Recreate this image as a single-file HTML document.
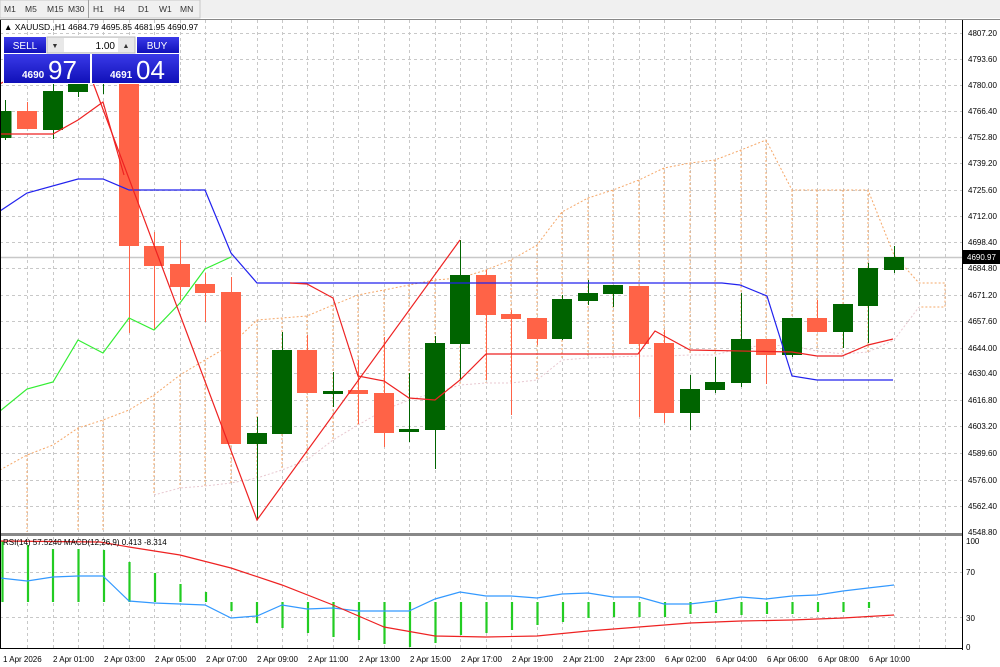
<!DOCTYPE html>
<html><head><meta charset="utf-8"><style>
body{margin:0;width:1000px;height:667px;overflow:hidden;background:#fff;font-family:"Liberation Sans",sans-serif}
svg{position:absolute;left:0;top:0}
</style></head><body>
<svg width="1000" height="667" viewBox="0 0 1000 667" font-family="Liberation Sans, sans-serif">
<rect x="0" y="0" width="1000" height="667" fill="#fff"/>
<!-- toolbar -->
<rect x="0" y="0" width="1000" height="18" fill="#f0f0f0"/>
<rect x="0" y="0" width="200" height="18" fill="#f0f0f0" stroke="#c8c8c8"/>
<line x1="88.5" y1="0" x2="88.5" y2="18" stroke="#a0a0a0"/>
<g font-size="8.5" fill="#333">
<text x="4" y="12">M1</text><text x="25" y="12">M5</text><text x="47" y="12">M15</text><text x="68" y="12">M30</text>
<text x="93" y="12">H1</text><text x="114" y="12">H4</text><text x="138" y="12">D1</text><text x="159" y="12">W1</text><text x="180" y="12">MN</text>
</g>
<line x1="0" y1="19.5" x2="1000" y2="19.5" stroke="#888"/>
<!-- grid main -->
<g stroke="#c8c8c8" stroke-dasharray="3,3" stroke-width="1">
<line x1="0" y1="33.5" x2="962" y2="33.5"/><line x1="0" y1="59.5" x2="962" y2="59.5"/><line x1="0" y1="85.5" x2="962" y2="85.5"/><line x1="0" y1="111.5" x2="962" y2="111.5"/><line x1="0" y1="137.5" x2="962" y2="137.5"/><line x1="0" y1="163.5" x2="962" y2="163.5"/><line x1="0" y1="190.5" x2="962" y2="190.5"/><line x1="0" y1="216.5" x2="962" y2="216.5"/><line x1="0" y1="242.5" x2="962" y2="242.5"/><line x1="0" y1="268.5" x2="962" y2="268.5"/><line x1="0" y1="295.5" x2="962" y2="295.5"/><line x1="0" y1="321.5" x2="962" y2="321.5"/><line x1="0" y1="348.5" x2="962" y2="348.5"/><line x1="0" y1="373.5" x2="962" y2="373.5"/><line x1="0" y1="400.5" x2="962" y2="400.5"/><line x1="0" y1="426.5" x2="962" y2="426.5"/><line x1="0" y1="453.5" x2="962" y2="453.5"/><line x1="0" y1="480.5" x2="962" y2="480.5"/><line x1="0" y1="506.5" x2="962" y2="506.5"/>
</g>
<g stroke="#c8c8c8" stroke-dasharray="3,3" id="vg">
<line x1="27.5" y1="20" x2="27.5" y2="532"/><line x1="53.5" y1="20" x2="53.5" y2="532"/><line x1="78.5" y1="20" x2="78.5" y2="532"/><line x1="103.5" y1="20" x2="103.5" y2="532"/><line x1="129.5" y1="20" x2="129.5" y2="532"/><line x1="154.5" y1="20" x2="154.5" y2="532"/><line x1="180.5" y1="20" x2="180.5" y2="532"/><line x1="205.5" y1="20" x2="205.5" y2="532"/><line x1="231.5" y1="20" x2="231.5" y2="532"/><line x1="257.5" y1="20" x2="257.5" y2="532"/><line x1="282.5" y1="20" x2="282.5" y2="532"/><line x1="307.5" y1="20" x2="307.5" y2="532"/><line x1="333.5" y1="20" x2="333.5" y2="532"/><line x1="358.5" y1="20" x2="358.5" y2="532"/><line x1="384.5" y1="20" x2="384.5" y2="532"/><line x1="409.5" y1="20" x2="409.5" y2="532"/><line x1="435.5" y1="20" x2="435.5" y2="532"/><line x1="460.5" y1="20" x2="460.5" y2="532"/><line x1="486.5" y1="20" x2="486.5" y2="532"/><line x1="511.5" y1="20" x2="511.5" y2="532"/><line x1="537.5" y1="20" x2="537.5" y2="532"/><line x1="562.5" y1="20" x2="562.5" y2="532"/><line x1="588.5" y1="20" x2="588.5" y2="532"/><line x1="613.5" y1="20" x2="613.5" y2="532"/><line x1="639.5" y1="20" x2="639.5" y2="532"/><line x1="664.5" y1="20" x2="664.5" y2="532"/><line x1="690.5" y1="20" x2="690.5" y2="532"/><line x1="715.5" y1="20" x2="715.5" y2="532"/><line x1="741.5" y1="20" x2="741.5" y2="532"/><line x1="766.5" y1="20" x2="766.5" y2="532"/><line x1="792.5" y1="20" x2="792.5" y2="532"/><line x1="817.5" y1="20" x2="817.5" y2="532"/><line x1="843.5" y1="20" x2="843.5" y2="532"/><line x1="868.5" y1="20" x2="868.5" y2="532"/><line x1="894.5" y1="20" x2="894.5" y2="532"/><line x1="919.5" y1="20" x2="919.5" y2="532"/><line x1="945.5" y1="20" x2="945.5" y2="532"/>
</g>
<!-- cloud -->
<g stroke="#f5a86a" stroke-dasharray="2,2" fill="none" stroke-width="1">
<polyline points="0,470 27,455 53,445 78,428 103,420 129,410 154,395 180,375 205,360 231,345 257,320 282,318 307,316 333,305 358,295 384,290 409,285 435,280 460,278 486,270 511,260 537,245 562,212 588,198 613,190 639,180 664,168 690,163 715,160 741,150 766,140 792,190 817,190 843,190 868,190 894,255 919,283 945,283 945,307 919,307"/>
<line x1="27" y1="455" x2="27" y2="532"/><line x1="78" y1="428" x2="78" y2="532"/><line x1="103" y1="420" x2="103" y2="532"/><line x1="154" y1="395" x2="154" y2="495"/><line x1="180" y1="375" x2="180" y2="488"/><line x1="205" y1="360" x2="205" y2="486"/><line x1="231" y1="345" x2="231" y2="483"/><line x1="257" y1="320" x2="257" y2="478"/><line x1="282" y1="318" x2="282" y2="470"/><line x1="307" y1="316" x2="307" y2="460"/><line x1="333" y1="305" x2="333" y2="440"/><line x1="358" y1="295" x2="358" y2="425"/><line x1="384" y1="290" x2="384" y2="410"/><line x1="409" y1="285" x2="409" y2="400"/><line x1="435" y1="280" x2="435" y2="393"/><line x1="460" y1="278" x2="460" y2="385"/><line x1="486" y1="270" x2="486" y2="383"/><line x1="511" y1="260" x2="511" y2="383"/><line x1="537" y1="245" x2="537" y2="380"/><line x1="562" y1="212" x2="562" y2="360"/><line x1="588" y1="198" x2="588" y2="358"/><line x1="613" y1="190" x2="613" y2="357"/><line x1="639" y1="180" x2="639" y2="356"/><line x1="664" y1="168" x2="664" y2="356"/><line x1="690" y1="163" x2="690" y2="355"/><line x1="715" y1="160" x2="715" y2="355"/><line x1="741" y1="150" x2="741" y2="348"/><line x1="766" y1="140" x2="766" y2="345"/><line x1="792" y1="190" x2="792" y2="346"/><line x1="817" y1="190" x2="817" y2="351"/><line x1="843" y1="190" x2="843" y2="354"/><line x1="868" y1="190" x2="868" y2="352"/>
</g>
<polyline fill="none" stroke="#e8c8d0" stroke-dasharray="2,2" points="154,495 180,488 205,486 231,483 257,478 282,470 307,460 333,440 358,425 384,410 409,400 435,393 460,385 486,383 511,383 537,380 562,360 588,358 613,357 639,356 664,356 690,355 715,355 741,348 766,345 792,346 817,351 843,354 868,352 894,340 919,307"/>
<!-- current price line -->
<line x1="0" y1="257.5" x2="962" y2="257.5" stroke="#c8c8c8" stroke-width="1.5"/>
<!-- candles -->
<g stroke-width="1">
<g stroke="#ff6347" fill="#ff6347">
<line x1="27.5" y1="102" x2="27.5" y2="128"/><rect x="17.5" y="111.5" width="19" height="17"/>
<line x1="129.5" y1="83" x2="129.5" y2="333"/><rect x="119.5" y="83.5" width="19" height="162"/>
<line x1="154.5" y1="232" x2="154.5" y2="330"/><rect x="144.5" y="246.5" width="19" height="19"/>
<line x1="180.5" y1="240" x2="180.5" y2="300"/><rect x="170.5" y="264.5" width="19" height="22"/>
<line x1="205.5" y1="273" x2="205.5" y2="322"/><rect x="195.5" y="284.5" width="19" height="8"/>
<line x1="231.5" y1="277" x2="231.5" y2="443"/><rect x="221.5" y="292.5" width="19" height="151"/>
<line x1="307.5" y1="335" x2="307.5" y2="392"/><rect x="297.5" y="350.5" width="19" height="42"/>
<line x1="358.5" y1="360" x2="358.5" y2="424"/><rect x="348.5" y="390.5" width="19" height="3"/>
<line x1="384.5" y1="337" x2="384.5" y2="447"/><rect x="374.5" y="393.5" width="19" height="39"/>
<line x1="486.5" y1="270" x2="486.5" y2="380"/><rect x="476.5" y="275.5" width="19" height="39"/>
<line x1="511.5" y1="310" x2="511.5" y2="415"/><rect x="501.5" y="314.5" width="19" height="4"/>
<line x1="537.5" y1="318" x2="537.5" y2="345"/><rect x="527.5" y="318.5" width="19" height="20"/>
<line x1="639.5" y1="286" x2="639.5" y2="417"/><rect x="629.5" y="286.5" width="19" height="57"/>
<line x1="664.5" y1="330" x2="664.5" y2="423"/><rect x="654.5" y="343.5" width="19" height="69"/>
<line x1="766.5" y1="339" x2="766.5" y2="384"/><rect x="756.5" y="339.5" width="19" height="15"/>
<line x1="817.5" y1="300" x2="817.5" y2="331"/><rect x="807.5" y="318.5" width="19" height="13"/>
</g>
<g stroke="#006400" fill="#006400">
<line x1="5.5" y1="100" x2="5.5" y2="140"/><rect x="0" y="111.5" width="11" height="26"/>
<line x1="53.5" y1="83" x2="53.5" y2="139"/><rect x="43.5" y="91.5" width="19" height="38"/>
<line x1="78.5" y1="83" x2="78.5" y2="97"/><rect x="68.5" y="83.5" width="19" height="8"/>
<line x1="103.5" y1="83" x2="103.5" y2="94"/>
<line x1="257.5" y1="417" x2="257.5" y2="520"/><rect x="247.5" y="433.5" width="19" height="10"/>
<line x1="282.5" y1="332" x2="282.5" y2="433"/><rect x="272.5" y="350.5" width="19" height="83"/>
<line x1="333.5" y1="372" x2="333.5" y2="407"/><rect x="323.5" y="391.5" width="19" height="2"/>
<line x1="409.5" y1="373" x2="409.5" y2="442"/><rect x="399.5" y="429.5" width="19" height="2"/>
<line x1="435.5" y1="336" x2="435.5" y2="469"/><rect x="425.5" y="343.5" width="19" height="86"/>
<line x1="460.5" y1="240" x2="460.5" y2="380"/><rect x="450.5" y="275.5" width="19" height="68"/>
<line x1="562.5" y1="295" x2="562.5" y2="340"/><rect x="552.5" y="299.5" width="19" height="39"/>
<line x1="588.5" y1="280" x2="588.5" y2="305"/><rect x="578.5" y="293.5" width="19" height="7"/>
<line x1="613.5" y1="285" x2="613.5" y2="307"/><rect x="603.5" y="285.5" width="19" height="8"/>
<line x1="690.5" y1="375" x2="690.5" y2="430"/><rect x="680.5" y="389.5" width="19" height="23"/>
<line x1="715.5" y1="357" x2="715.5" y2="393"/><rect x="705.5" y="382.5" width="19" height="7"/>
<line x1="741.5" y1="293" x2="741.5" y2="387"/><rect x="731.5" y="339.5" width="19" height="43"/>
<line x1="792.5" y1="318" x2="792.5" y2="357"/><rect x="782.5" y="318.5" width="19" height="36"/>
<line x1="843.5" y1="304" x2="843.5" y2="348"/><rect x="833.5" y="304.5" width="19" height="27"/>
<line x1="868.5" y1="263" x2="868.5" y2="343"/><rect x="858.5" y="268.5" width="19" height="37"/>
<line x1="894.5" y1="246" x2="894.5" y2="273"/><rect x="884.5" y="257.5" width="19" height="12"/>
</g>
</g>
<!-- lines -->
<polyline fill="none" stroke="#2222ee" stroke-width="1.2" points="0,211 27,193 78,179 103,179 129,190 205,190 231,253 257,283 722,283 740,285 767,296 792,376 817,380 893,380"/>
<polyline fill="none" stroke="#33ee33" stroke-width="1.2" points="0,411 27,389 53,382 78,340 103,353 129,318 154,330 180,303 205,269 231,257"/>
<polyline fill="none" stroke="#ee2222" stroke-width="1.2" points="0,134 53,134 78,120 103,102 124,175"/>
<polyline fill="none" stroke="#ee2222" stroke-width="1.2" points="92,80 257,520 460,240"/>
<polyline fill="none" stroke="#ee2222" stroke-width="1.2" points="0,84 5,81"/>
<polyline fill="none" stroke="#ee2222" stroke-width="1.2" points="290,283 307,284 333,298 358,376 384,381 409,398 435,400 460,380 486,354 638,354 655,331 690,350 792,352 817,356 842,356 868,345 893,339"/>
<!-- header -->
<text x="4" y="30" font-size="8.5" fill="#000">▲ XAUUSD.,H1  4684.79 4695.85 4681.95 4690.97</text>
<!-- trade panel -->
<defs><linearGradient id="bg" x1="0" y1="0" x2="0" y2="1"><stop offset="0" stop-color="#3a3ae8"/><stop offset="1" stop-color="#1010b8"/></linearGradient></defs>
<rect x="3" y="37" width="176" height="47" fill="#fff"/>
<rect x="4" y="37" width="42" height="16" fill="url(#bg)"/>
<text x="25" y="49" font-size="10" fill="#fff" text-anchor="middle">SELL</text>
<rect x="47" y="37" width="88" height="16" fill="#e8e8e8" stroke="#bbb"/>
<rect x="64" y="38" width="54" height="14" fill="#fff"/>
<text x="55" y="48" font-size="7" fill="#333" text-anchor="middle">▼</text>
<text x="126" y="48" font-size="7" fill="#333" text-anchor="middle">▲</text>
<text x="115" y="49" font-size="10" fill="#000" text-anchor="end">1.00</text>
<rect x="137" y="37" width="42" height="16" fill="url(#bg)"/>
<text x="157" y="49" font-size="10" fill="#fff" text-anchor="middle">BUY</text>
<rect x="4" y="54" width="86" height="29" fill="url(#bg)"/>
<rect x="92" y="54" width="87" height="29" fill="url(#bg)"/>
<text x="22" y="78" font-size="10" fill="#fff" font-weight="bold">4690</text>
<text x="48" y="79" font-size="26" fill="#fff">97</text>
<text x="110" y="78" font-size="10" fill="#fff" font-weight="bold">4691</text>
<text x="136" y="79" font-size="26" fill="#fff">04</text>
<!-- price axis -->
<line x1="962.5" y1="20" x2="962.5" y2="650" stroke="#000"/>
<g font-size="8" fill="#000">
<text x="968" y="36">4807.20</text><text x="968" y="62">4793.60</text><text x="968" y="88">4780.00</text><text x="968" y="114">4766.40</text><text x="968" y="140">4752.80</text><text x="968" y="166">4739.20</text><text x="968" y="193">4725.60</text><text x="968" y="219">4712.00</text><text x="968" y="245">4698.40</text><text x="968" y="271">4684.80</text><text x="968" y="298">4671.20</text><text x="968" y="324">4657.60</text><text x="968" y="351">4644.00</text><text x="968" y="376">4630.40</text><text x="968" y="403">4616.80</text><text x="968" y="429">4603.20</text><text x="968" y="456">4589.60</text><text x="968" y="483">4576.00</text><text x="968" y="509">4562.40</text><text x="968" y="535">4548.80</text>
</g>
<rect x="963" y="250" width="37" height="14" fill="#000"/>
<text x="967" y="260" font-size="8" fill="#fff">4690.97</text>
<!-- separator -->
<rect x="0" y="533" width="962" height="3" fill="#888"/>
<!-- subwindow -->
<g stroke="#c8c8c8" stroke-dasharray="3,3">
<line x1="0" y1="572.5" x2="962" y2="572.5"/><line x1="0" y1="617.5" x2="962" y2="617.5"/>
</g>
<g stroke="#c8c8c8" stroke-dasharray="3,3">
<line x1="27.5" y1="537" x2="27.5" y2="648"/><line x1="53.5" y1="537" x2="53.5" y2="648"/><line x1="78.5" y1="537" x2="78.5" y2="648"/><line x1="103.5" y1="537" x2="103.5" y2="648"/><line x1="129.5" y1="537" x2="129.5" y2="648"/><line x1="154.5" y1="537" x2="154.5" y2="648"/><line x1="180.5" y1="537" x2="180.5" y2="648"/><line x1="205.5" y1="537" x2="205.5" y2="648"/><line x1="231.5" y1="537" x2="231.5" y2="648"/><line x1="257.5" y1="537" x2="257.5" y2="648"/><line x1="282.5" y1="537" x2="282.5" y2="648"/><line x1="307.5" y1="537" x2="307.5" y2="648"/><line x1="333.5" y1="537" x2="333.5" y2="648"/><line x1="358.5" y1="537" x2="358.5" y2="648"/><line x1="384.5" y1="537" x2="384.5" y2="648"/><line x1="409.5" y1="537" x2="409.5" y2="648"/><line x1="435.5" y1="537" x2="435.5" y2="648"/><line x1="460.5" y1="537" x2="460.5" y2="648"/><line x1="486.5" y1="537" x2="486.5" y2="648"/><line x1="511.5" y1="537" x2="511.5" y2="648"/><line x1="537.5" y1="537" x2="537.5" y2="648"/><line x1="562.5" y1="537" x2="562.5" y2="648"/><line x1="588.5" y1="537" x2="588.5" y2="648"/><line x1="613.5" y1="537" x2="613.5" y2="648"/><line x1="639.5" y1="537" x2="639.5" y2="648"/><line x1="664.5" y1="537" x2="664.5" y2="648"/><line x1="690.5" y1="537" x2="690.5" y2="648"/><line x1="715.5" y1="537" x2="715.5" y2="648"/><line x1="741.5" y1="537" x2="741.5" y2="648"/><line x1="766.5" y1="537" x2="766.5" y2="648"/><line x1="792.5" y1="537" x2="792.5" y2="648"/><line x1="817.5" y1="537" x2="817.5" y2="648"/><line x1="843.5" y1="537" x2="843.5" y2="648"/><line x1="868.5" y1="537" x2="868.5" y2="648"/><line x1="894.5" y1="537" x2="894.5" y2="648"/><line x1="919.5" y1="537" x2="919.5" y2="648"/><line x1="945.5" y1="537" x2="945.5" y2="648"/>
</g>
<g stroke="#22cc22" stroke-width="2.2">
<line x1="2.5" y1="541" x2="2.5" y2="602"/><line x1="28" y1="545" x2="28" y2="602"/><line x1="53" y1="549" x2="53" y2="602"/><line x1="78.5" y1="549" x2="78.5" y2="602"/><line x1="104" y1="550" x2="104" y2="602"/><line x1="129.5" y1="562" x2="129.5" y2="602"/><line x1="155" y1="573" x2="155" y2="602"/><line x1="180.5" y1="584" x2="180.5" y2="602"/><line x1="206" y1="592" x2="206" y2="602"/><line x1="231.5" y1="602" x2="231.5" y2="611"/><line x1="257" y1="602" x2="257" y2="623"/><line x1="282.5" y1="602" x2="282.5" y2="628"/><line x1="308" y1="602" x2="308" y2="633"/><line x1="333.5" y1="602" x2="333.5" y2="637"/><line x1="359" y1="602" x2="359" y2="640"/><line x1="384.5" y1="602" x2="384.5" y2="644"/><line x1="410" y1="602" x2="410" y2="647"/><line x1="435.5" y1="602" x2="435.5" y2="643"/><line x1="461" y1="602" x2="461" y2="635"/><line x1="486.5" y1="602" x2="486.5" y2="633"/><line x1="512" y1="602" x2="512" y2="630"/><line x1="537.5" y1="602" x2="537.5" y2="625"/><line x1="563" y1="602" x2="563" y2="622"/><line x1="588.5" y1="602" x2="588.5" y2="618"/><line x1="614" y1="602" x2="614" y2="617"/><line x1="639.5" y1="602" x2="639.5" y2="617"/><line x1="665" y1="602" x2="665" y2="617"/><line x1="690.5" y1="602" x2="690.5" y2="614"/><line x1="716" y1="602" x2="716" y2="613"/><line x1="741.5" y1="602" x2="741.5" y2="615"/><line x1="767" y1="602" x2="767" y2="614"/><line x1="792.5" y1="602" x2="792.5" y2="614"/><line x1="818" y1="602" x2="818" y2="612"/><line x1="843.5" y1="602" x2="843.5" y2="612"/><line x1="869" y1="602" x2="869" y2="608"/>
</g>
<polyline fill="none" stroke="#3399ff" stroke-width="1.2" points="0,578 27,581 53,577 78,576 103,576 129,601 154,603 180,604 205,605 231,618 257,616 282,605 307,609 333,608 358,611 384,611 409,611 435,599 460,592 486,596 511,596 537,598 562,594 588,593 613,597 639,597 664,604 690,604 715,601 741,597 766,599 792,596 817,595 843,591 868,588 894,585"/>
<polyline fill="none" stroke="#ee2222" stroke-width="1.2" points="0,541 100,542 129,547 180,555 231,568 282,585 333,605 384,627 435,636 486,637 537,636 588,631 639,627 690,623 741,621 792,620 843,618 894,615"/>
<text x="3" y="545" font-size="8" fill="#000">RSI(14) 57.5240  MACD(12,26,9) 0.413 -8.314</text>
<g font-size="8" fill="#000">
<text x="966" y="544">100</text><text x="966" y="575">70</text><text x="966" y="621">30</text><text x="966" y="650">0</text>
</g>
<line x1="0" y1="648.5" x2="963" y2="648.5" stroke="#000"/>
<line x1="0.5" y1="20" x2="0.5" y2="648" stroke="#000"/>
<!-- time axis -->
<g font-size="8" fill="#000">
<text x="3" y="662">1 Apr 2026</text><text x="53" y="662">2 Apr 01:00</text><text x="104" y="662">2 Apr 03:00</text><text x="155" y="662">2 Apr 05:00</text><text x="206" y="662">2 Apr 07:00</text><text x="257" y="662">2 Apr 09:00</text><text x="308" y="662">2 Apr 11:00</text><text x="359" y="662">2 Apr 13:00</text><text x="410" y="662">2 Apr 15:00</text><text x="461" y="662">2 Apr 17:00</text><text x="512" y="662">2 Apr 19:00</text><text x="563" y="662">2 Apr 21:00</text><text x="614" y="662">2 Apr 23:00</text><text x="665" y="662">6 Apr 02:00</text><text x="716" y="662">6 Apr 04:00</text><text x="767" y="662">6 Apr 06:00</text><text x="818" y="662">6 Apr 08:00</text><text x="869" y="662">6 Apr 10:00</text>
</g>
</svg>
</body></html>
